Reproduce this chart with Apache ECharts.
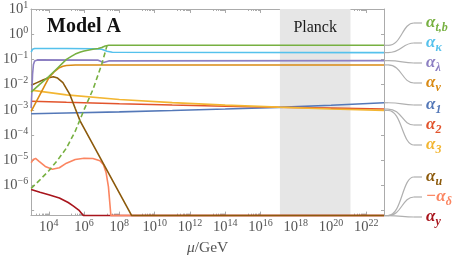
<!DOCTYPE html>
<html><head><meta charset="utf-8">
<script src="https://cdn.jsdelivr.net/npm/echarts@6/dist/echarts.min.js"></script>
<style>html,body{margin:0;padding:0;background:#fff}#c{width:457px;height:261px}</style>
</head><body><div id="c"></div>
<script>
// ---------- data (mu in GeV, couplings alpha) ----------
const MU_GAUGE = [1e3, 1e5, 1e8, 1e11, 1e14, 1e17, 1e20, 1e23];
const ALPHA_1 = [6.97e-4, 7.44e-4, 8.28e-4, 9.34e-4, 1.07e-3, 1.25e-3, 1.51e-3, 1.90e-3];
const ALPHA_2 = [2.19e-3, 1.98e-3, 1.74e-3, 1.54e-3, 1.39e-3, 1.26e-3, 1.16e-3, 1.07e-3];
const ALPHA_3 = [6.02e-3, 3.92e-3, 2.57e-3, 1.92e-3, 1.53e-3, 1.27e-3, 1.08e-3, 9.47e-4];

const MU_TB = [1e3, 3.16e3, 1e4, 3.16e4, 1e5, 2e5, 3.16e5, 6.31e5, 1e6, 3.16e6, 6.31e6, 1e7, 1.58e7, 2.51e7, 1e23];
const ALPHA_TB = [5.01e-3, 1.05e-2, 2.09e-2, 4.57e-2, 0.1, 0.135, 0.162, 0.195, 0.214, 0.251, 0.269, 0.295, 0.339, 0.363, 0.363];

const MU_TB_DASH = [1e3, 3.16e3, 1e4, 3.16e4, 1e5, 3.16e5, 1e6, 3.16e6, 1e7, 2e7];
const ALPHA_TB_DASH = [7.59e-7, 1.66e-6, 3.80e-6, 1e-5, 3.02e-5, 1.41e-4, 1e-3, 6.31e-3, 6.31e-2, 0.355];

const MU_KAPPA = [1e3, 1.2e3, 1.58e3, 1e5, 3.16e6, 1e7, 2e7, 3.98e7, 1e23];
const ALPHA_KAPPA = [0.195, 0.251, 0.269, 0.269, 0.263, 0.251, 0.209, 0.191, 0.186];

const MU_LAMBDA = [1e3, 1.1e3, 1.2e3, 1.35e3, 1.58e3, 2.24e3, 6.31e6, 1.26e7, 2.51e7, 1e23];
const ALPHA_LAMBDA = [1.17e-3, 5.01e-3, 2.51e-2, 6.31e-2, 8.71e-2, 9.55e-2, 9.33e-2, 7.59e-2, 8.71e-2, 8.91e-2];

const MU_NU = [1e3, 3.16e3, 1e4, 2e4, 3.98e4, 6.31e4, 1e5, 3.16e5, 1e6, 1e23];
const ALPHA_NU = [8.71e-4, 3.98e-3, 1.86e-2, 3.16e-2, 4.68e-2, 5.37e-2, 5.75e-2, 5.96e-2, 6.03e-2, 6.03e-2];

const MU_U = [1e3, 2e3, 5.01e3, 1e4, 1.82e4, 3.16e4, 6.31e4, 1.58e5, 3.16e5, 6.03e5, 5.01e8, 1e23];
const ALPHA_U = [9.33e-3, 1.17e-2, 1.55e-2, 1.86e-2, 2.04e-2, 1.82e-2, 1.20e-2, 3.98e-3, 1.12e-3, 3.55e-4, 6.31e-8, 0];

const MU_DELTA = [1e3, 1.32e3, 1.78e3, 2.82e3, 6.31e3, 1.58e4, 3.98e4, 1e5, 3.16e5, 1e6, 3.16e6, 7.94e6, 1.26e7, 1.78e7, 2.4e7, 2.88e7, 3.31e7, 1e23];
const MINUS_ALPHA_DELTA = [7.94e-6, 1.07e-5, 1.17e-5, 8.91e-6, 5.62e-6, 4.37e-6, 5.01e-6, 7.59e-6, 1.07e-5, 1.20e-5, 1.17e-5, 9.55e-6, 6.61e-6, 3.16e-6, 8.91e-7, 2.0e-7, 6.31e-8, 0];

const MU_Y = [1e3, 3.16e3, 1e4, 3.98e4, 1.26e5, 2.51e5, 5.01e5, 9.12e5, 1e23];
const ALPHA_Y = [6.92e-7, 5.37e-7, 4.27e-7, 3.16e-7, 2.09e-7, 1.51e-7, 1.05e-7, 6.31e-8, 0];

const PLANCK_BAND = [1.26e17, 1.26e21];
const X_LABEL_EXP = [4, 6, 8, 10, 12, 14, 16, 18, 20, 22];
const Y_LABEL_EXP = [-6, -5, -4, -3, -2, -1, 0, 1];

// ---------- axis ranges (log10 space) ----------
const X_MIN = 3, X_MAX = 23, Y_MIN = -7.2, Y_MAX = 1;
const FONT = 'Liberation Serif';
const AX = '#ababab', TXT = '#555';

function pts(mu, a) {
  return mu.map((m, i) => [Math.log10(m), a[i] > 0 ? Math.max(Math.log10(a[i]), Y_MIN) : Y_MIN]);
}
const minorX = [];
X_LABEL_EXP.forEach(n => { for (let k = 2; k <= 9; k++) minorX.push(n - 1 + Math.log10(k)); });
const yTicks = [-7, -6, -5, -4, -3, -2, -1, 0, 1];

function pow(v) {
  const e = Math.round(v);
  return '{b|10}{s|' + (e < 0 ? '\u2212' + (-e) : e) + '}';
}
const RICH = {
  b: {fontFamily: FONT, fontSize: 14.5, color: TXT},
  s: {fontFamily: FONT, fontSize: 10, color: TXT, padding: [0, 0, 8, 0]}
};

const SERIES = [
  {id: 'a1', mu: MU_GAUGE, a: ALPHA_1, color: '#5478b8'},
  {id: 'a2', mu: MU_GAUGE, a: ALPHA_2, color: '#e2542c'},
  {id: 'a3', mu: MU_GAUGE, a: ALPHA_3, color: '#f3b632'},
  {id: 'ay', mu: MU_Y, a: ALPHA_Y, color: '#a8141c'},
  {id: 'ad', mu: MU_DELTA, a: MINUS_ALPHA_DELTA, color: '#fb8561'},
  {id: 'au', mu: MU_U, a: ALPHA_U, color: '#8c5a0c'},
  {id: 'anu', mu: MU_NU, a: ALPHA_NU, color: '#d98a14'},
  {id: 'alam', mu: MU_LAMBDA, a: ALPHA_LAMBDA, color: '#8c7fc2'},
  {id: 'ak', mu: MU_KAPPA, a: ALPHA_KAPPA, color: '#55c1ec'},
  {id: 'atb', mu: MU_TB, a: ALPHA_TB, color: '#77b041'},
  {id: 'atbd', mu: MU_TB_DASH, a: ALPHA_TB_DASH, color: '#77b041', dash: true}
];

const chart = echarts.init(document.getElementById('c'), null, {renderer: 'canvas'});

function xAxisCfg(pos, ticks, len, labels) {
  return {
    type: 'value', position: pos, min: X_MIN, max: X_MAX,
    axisLine: {show: true, onZero: false, lineStyle: {color: AX, width: 1}},
    axisTick: {show: true, inside: true, length: len, customValues: ticks, lineStyle: {color: AX}},
    axisLabel: labels ? {show: true, customValues: X_LABEL_EXP, margin: 3, formatter: pow, rich: RICH} : {show: false},
    splitLine: {show: false},
    name: labels ? '{i|\u03bc}{n|/GeV}' : '',
    nameLocation: 'middle', nameGap: 19,
    nameTextStyle: {rich: {i: {fontFamily: FONT, fontSize: 15.5, fontStyle: 'italic', color: TXT}, n: {fontFamily: FONT, fontSize: 15.5, color: TXT}}}
  };
}
function yAxisCfg(pos, labels) {
  return {
    type: 'value', position: pos, min: Y_MIN, max: Y_MAX,
    axisLine: {show: true, onZero: false, lineStyle: {color: AX, width: 1}},
    axisTick: {show: true, inside: true, length: 3, customValues: yTicks, lineStyle: {color: AX}},
    axisLabel: labels ? {show: true, customValues: Y_LABEL_EXP, margin: 3, formatter: pow, rich: RICH} : {show: false},
    splitLine: {show: false}
  };
}

const series = [{
  type: 'line', data: [], xAxisIndex: 0, yAxisIndex: 0, z: 1, silent: true,
  markArea: {
    silent: true, itemStyle: {color: '#e6e6e6'},
    label: {show: true, position: 'insideTop', distance: 11, formatter: 'Planck', fontFamily: FONT, fontSize: 16, color: '#1a1a1a'},
    data: [[{xAxis: Math.log10(PLANCK_BAND[0])}, {xAxis: Math.log10(PLANCK_BAND[1])}]]
  }
}];
SERIES.forEach(s => series.push({
  id: s.id, type: 'line', xAxisIndex: 0, yAxisIndex: 0, z: 3,
  data: pts(s.mu, s.a), showSymbol: false, symbol: 'none', smooth: false,
  lineStyle: {color: s.color, width: 1.6, type: s.dash ? [5, 3] : 'solid'},
  animation: false
}));

chart.setOption({
  animation: false,
  grid: {left: 31, right: 73, top: 9, bottom: 34, containLabel: false},
  xAxis: [
    xAxisCfg('bottom', X_LABEL_EXP, 4, true),
    xAxisCfg('bottom', minorX, 2, false),
    xAxisCfg('top', X_LABEL_EXP, 4, false),
    xAxisCfg('top', minorX, 2, false)
  ],
  yAxis: [yAxisCfg('left', true), yAxisCfg('right', false)],
  series: series
});

// ---------- annotations: leader lines + labels ----------
const LABELS = [
  {id: 'atb', t: '\u03b1', s: 't,b', color: '#77b041', y: 23},
  {id: 'ak', t: '\u03b1', s: '\u03ba', color: '#55c1ec', y: 43},
  {id: 'alam', t: '\u03b1', s: '\u03bb', color: '#8c7fc2', y: 63},
  {id: 'anu', t: '\u03b1', s: '\u03bd', color: '#d98a14', y: 83},
  {id: 'a1', t: '\u03b1', s: '1', color: '#5478b8', y: 105},
  {id: 'a2', t: '\u03b1', s: '2', color: '#e2542c', y: 125},
  {id: 'a3', t: '\u03b1', s: '3', color: '#f3b632', y: 145},
  {id: 'au', t: '\u03b1', s: 'u', color: '#8c5a0c', y: 177},
  {id: 'ad', t: '\u2212\u03b1', s: '\u03b4', color: '#fb8561', y: 197},
  {id: 'ay', t: '\u03b1', s: 'y', color: '#a8141c', y: 217}
];
const graphics = [];
LABELS.forEach(L => {
  const s = SERIES.find(q => q.id === L.id);
  const d = pts(s.mu, s.a);
  const last = d[d.length - 1];
  const p = chart.convertToPixel({xAxisIndex: 0, yAxisIndex: 0}, last);
  const x0 = p[0], y0 = p[1], y1 = L.y;
  const ls = {stroke: '#b0b0b0', lineWidth: 1.2, fill: 'none'};
  graphics.push({type: 'line', silent: true, shape: {x1: x0, y1: y0, x2: x0 + 4, y2: y0}, style: ls});
  graphics.push({type: 'bezierCurve', silent: true, shape: {x1: x0 + 4, y1: y0, cpx1: x0 + 18, cpy1: y0, cpx2: x0 + 18, cpy2: y1, x2: x0 + 30, y2: y1}, style: ls});
  graphics.push({type: 'line', silent: true, shape: {x1: x0 + 30, y1: y1, x2: x0 + 38, y2: y1}, style: ls});
  graphics.push({
    type: 'text', silent: true, x: x0 + 42, y: y1,
    style: {
      text: '{a|' + L.t + '}{s|' + L.s + '}', verticalAlign: 'middle', align: 'left',
      rich: {
        a: {fontFamily: FONT, fontSize: 17, fontStyle: 'italic', fontWeight: 'bold', fill: L.color},
        s: {fontFamily: FONT, fontSize: 12, fontStyle: 'italic', fontWeight: 'bold', fill: L.color, padding: [9, 0, 0, 0]}
      }
    }
  });
});
graphics.push({
  type: 'text', silent: true, x: 47, y: 27,
  style: {text: 'Model A', fontFamily: FONT, fontSize: 20, fontWeight: 'bold', fill: '#111', verticalAlign: 'middle', align: 'left'}
});
chart.setOption({graphic: graphics});
</script>
</body></html>
